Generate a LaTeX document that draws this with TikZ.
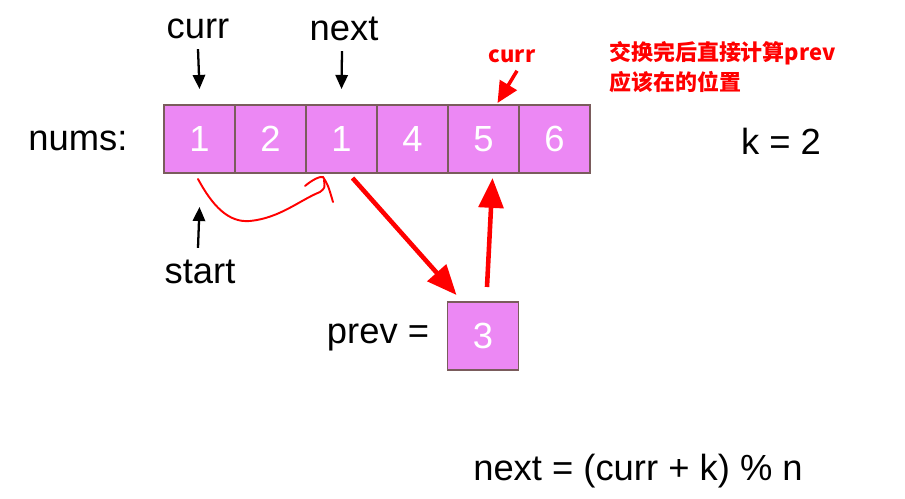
\documentclass[tikz,border=0pt]{standalone}
\usepackage{fontspec}
\setmainfont{Liberation Sans}
\newfontfamily\cjkfont{Noto Sans CJK SC}
\usetikzlibrary{arrows.meta,calc}
\definecolor{cellfill}{HTML}{EC88F4}
\definecolor{celldraw}{HTML}{7A5C5C}
\definecolor{notered}{HTML}{FF0000}
\tikzset{
  cell/.style={draw=celldraw,fill=cellfill,line width=0.8pt,minimum width=1.42cm,
    minimum height=1.36cm,inner sep=0pt,outer sep=0pt,text=white},
  bigtext/.style={font=\fontsize{20.7}{25}\selectfont},
  notetext/.style={font=\cjkfont\bfseries\fontsize{12.5}{17.5}\selectfont,text=notered},
  blackarrow/.style={line width=1.3pt,-{Triangle[width=7pt,length=8pt]}},
  redarrow/.style={notered,line width=2.6pt,-{Triangle[width=14pt,length=17pt]}}
}
\begin{document}
\begin{tikzpicture}[x=0.02cm,y=-0.02cm]
\useasboundingbox (0,0) rectangle (905,499);

\foreach \v [count=\i] in {1,2,1,4,5,6}
  \node[cell,bigtext] (c\i) at ({164+71*(\i-0.5)},139) {\v};

\node[bigtext] (nums) at (78,141) {nums:};
\node[bigtext] (k) at (781,141) {k = 2};
\node[bigtext] (curr) at (198,29) {curr};
\node[bigtext] (next) at (344,29) {next};
\node[bigtext] (start) at (200,272) {start};
\node[bigtext] (prevlabel) at (378,337) {prev =};
\node[cell,bigtext] (p) at (483,336) {3};
\node[bigtext] (formula) at (638,471) {next = (curr + k) \% n};

\draw[blackarrow] ($(curr.south)+(0,4)$) -- ($(c1.north)+(0,-16)$);
\draw[blackarrow] ($(next.south)+(-2,4)$) -- ($(c3.north)+(0,-16)$);
\draw[blackarrow] ($(start.north)+(-2,-6)$) -- ($(c1.south)+(0,34)$);

\node[notetext] (rcurr) at (512,56) {curr};
\node[notetext,anchor=west,align=left] (note) at (603,67) {交换完后直接计算prev\\应该在的位置};
\draw[redarrow,line width=2pt,-{Triangle[width=11pt,length=12pt]}] ($(rcurr.south)+(5,2)$) -- ($(c5.north)+(14,-2)$);

\draw[redarrow] ($(c3.south)+(11,5)$) -- ($(p.north west)+(9,-7)$);
\draw[redarrow] ($(p.north)+(4,-15)$) -- ($(c5.south)+(9,5)$);

\draw[notered,line width=1.1pt,line cap=round] (198,179) .. controls (212,205) and (228,223) .. (250,221)
  .. controls (280,218) and (300,200) .. (320,192) .. controls (325,188) .. (324,180);
\draw[notered,line width=1.1pt,line cap=round] (305,186) .. controls (312,180) and (320,176) .. (323,177)
  .. controls (328,185) .. (333,202);
\end{tikzpicture}
\end{document}
